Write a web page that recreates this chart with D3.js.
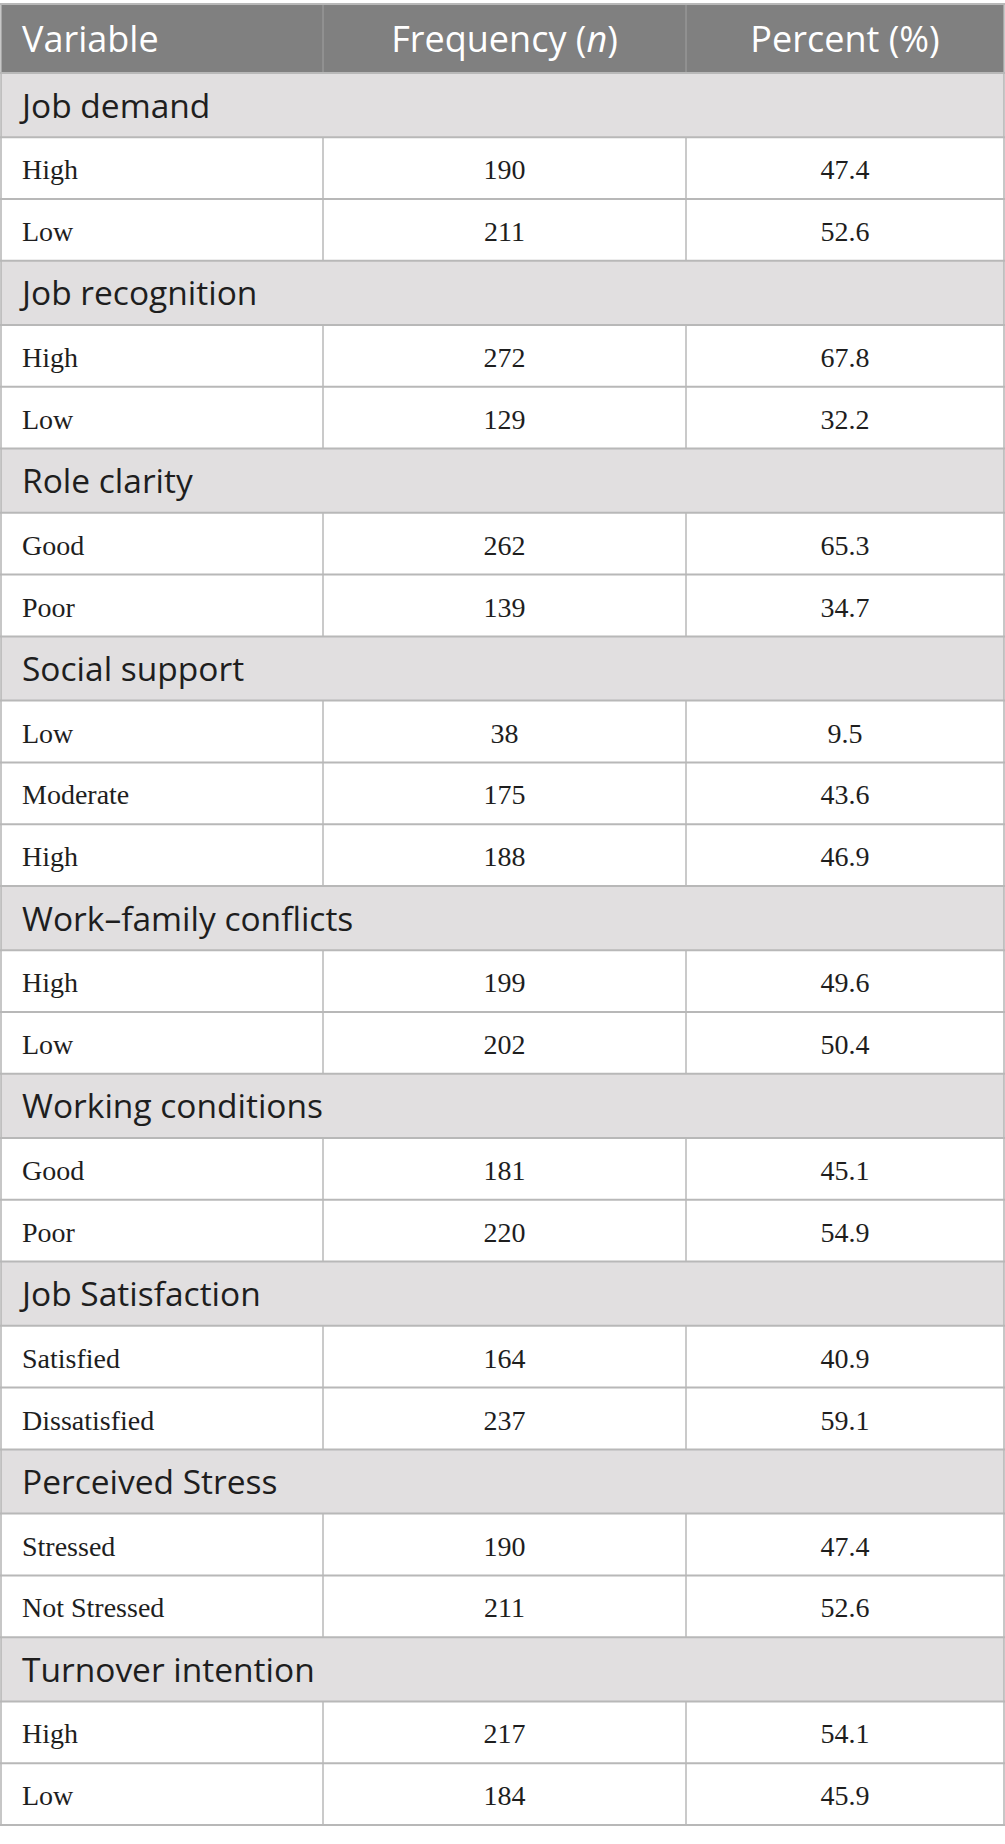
<!DOCTYPE html>
<html>
<head>
<meta charset="utf-8">
<script src="https://cdn.jsdelivr.net/npm/d3@7"></script>
<style>
  html, body { margin: 0; padding: 0; background: #fff; }
</style>
</head>
<body>
<svg id="tbl"></svg>
<script>
(function(){
    'use strict';

    // table content
    var headers = ['Variable', 'Frequency', 'Percent (%)'];
    var sections = ['Job demand', 'Job recognition', 'Role clarity', 'Social support',
        'Work\u2013family conflicts', 'Working conditions', 'Job Satisfaction',
        'Perceived Stress', 'Turnover intention'];
    var levels = [
        ['High', 'Low'],
        ['High', 'Low'],
        ['Good', 'Poor'],
        ['Low', 'Moderate', 'High'],
        ['High', 'Low'],
        ['Good', 'Poor'],
        ['Satisfied', 'Dissatisfied'],
        ['Stressed', 'Not Stressed'],
        ['High', 'Low']
    ];
    var freq = [
        [190, 211],
        [272, 129],
        [262, 139],
        [38, 175, 188],
        [199, 202],
        [181, 220],
        [164, 237],
        [190, 211],
        [217, 184]
    ];
    var pct = [
        [47.4, 52.6],
        [67.8, 32.2],
        [65.3, 34.7],
        [9.5, 43.6, 46.9],
        [49.6, 50.4],
        [45.1, 54.9],
        [40.9, 59.1],
        [47.4, 52.6],
        [54.1, 45.9]
    ];

    var width = 1005, height = 1844;
    var left = 1, right = 1004;
    var top = 4, headH = 69, secH = 64.2, rowH = 61.8;
    var pad = 21;

    var svg = d3.select('#tbl').attr('width', width).attr('height', height);

    // rows list
    var rows = [];
    sections.forEach(function (s, i) {
        rows.push({type: 'sec', label: s});
        levels[i].forEach(function (l, j) {
            rows.push({type: 'row', label: l, n: freq[i][j], p: pct[i][j]});
        });
    });
    var offs = [top + headH];
    rows.forEach(function (r) {
        r.h = r.type === 'sec' ? secH : rowH;
        r.y = offs[offs.length - 1];
        offs.push(r.y + r.h);
    });
    var bottom = offs[offs.length - 1];

    // column scale: edges of the three columns
    var colX = d3.scaleOrdinal().domain([0, 1, 2, 3]).range([left, 323, 686, right]);
    function mid(c) { return (colX(c) + colX(c + 1)) / 2; }

    // header
    svg.append('rect').attr('x', left).attr('y', top).attr('width', right - left).attr('height', headH)
        .attr('fill', '#808080');

    var sansFont = '"Open Sans", "Noto Sans", sans-serif';
    var serifFont = '"Liberation Serif", "DejaVu Serif", serif';

    var hy = top + headH / 2 + 13.5;
    svg.append('text').attr('x', left + pad).attr('y', hy)
        .attr('font-family', sansFont).attr('font-size', 36).attr('fill', '#fff')
        .text(headers[0]);
    var fq = svg.append('text').attr('x', mid(1)).attr('y', hy).attr('text-anchor', 'middle')
        .attr('font-family', sansFont).attr('font-size', 36).attr('fill', '#fff');
    fq.append('tspan').text(headers[1] + ' (');
    fq.append('tspan').attr('font-style', 'italic').text('n');
    fq.append('tspan').text(')');
    svg.append('text').attr('x', mid(2)).attr('y', hy).attr('text-anchor', 'middle')
        .attr('font-family', sansFont).attr('font-size', 36).attr('fill', '#fff')
        .text(headers[2]);

    // section backgrounds
    svg.selectAll('rect.sec').data(rows.filter(function (r) { return r.type === 'sec'; }))
        .enter().append('rect').attr('class', 'sec')
        .attr('x', left).attr('y', function (d) { return d.y; })
        .attr('width', right - left).attr('height', function (d) { return d.h; })
        .attr('fill', '#e1dfe0');

    // vertical lines
    svg.selectAll('line.hv').data([1, 2]).enter().append('line').attr('class', 'hv')
        .attr('x1', function (d) { return colX(d); }).attr('x2', function (d) { return colX(d); })
        .attr('y1', top).attr('y2', top + headH)
        .attr('stroke', '#9c9c9c').attr('stroke-width', 1.2);

    var dataRows = rows.filter(function (r) { return r.type === 'row'; });
    dataRows.forEach(function (r) {
        [1, 2].forEach(function (c) {
            svg.append('line').attr('x1', colX(c)).attr('x2', colX(c))
                .attr('y1', r.y).attr('y2', r.y + r.h)
                .attr('stroke', '#b4b4b4').attr('stroke-width', 1.4);
        });
    });
    svg.selectAll('line.outer').data([left, right]).enter().append('line').attr('class', 'outer')
        .attr('x1', function (d) { return d; }).attr('x2', function (d) { return d; })
        .attr('y1', top).attr('y2', bottom)
        .attr('stroke', '#b4b4b4').attr('stroke-width', 1.5);

    // horizontal lines
    svg.selectAll('line.hz').data(offs.concat([top])).enter().append('line').attr('class', 'hz')
        .attr('x1', left - 1).attr('x2', right + 1)
        .attr('y1', function (d) { return d; }).attr('y2', function (d) { return d; })
        .attr('stroke', '#b8b8b8').attr('stroke-width', 2);

    // section labels
    svg.selectAll('text.sec').data(rows.filter(function (r) { return r.type === 'sec'; }))
        .enter().append('text').attr('class', 'sec')
        .attr('x', left + pad).attr('y', function (d) { return d.y + d.h / 2 + 12.5; })
        .attr('font-family', sansFont).attr('font-size', 33.5).attr('fill', '#1e1e1e')
        .text(function (d) { return d.label; });

    // data cells
    var cells = svg.selectAll('g.row').data(dataRows).enter().append('g').attr('class', 'row')
        .attr('transform', function (d) { return 'translate(0,' + (d.y + d.h / 2 + 11) + ')'; })
        .attr('font-family', serifFont).attr('font-size', 28).attr('fill', '#1e1e1e');
    cells.append('text').attr('x', left + pad).text(function (d) { return d.label; });
    cells.append('text').attr('x', mid(1)).attr('text-anchor', 'middle').text(function (d) { return d.n; });
    cells.append('text').attr('x', mid(2)).attr('text-anchor', 'middle').text(function (d) { return d3.format('.1f')(d.p); });
})();
</script>
</body>
</html>
